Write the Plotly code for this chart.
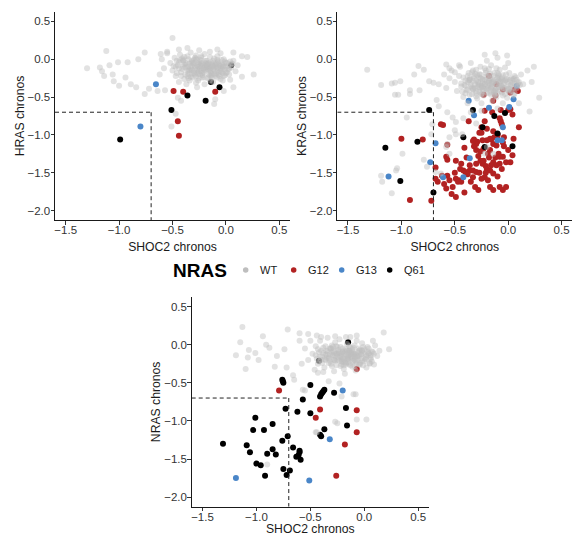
import plotly.graph_objects as go

# ---------------- DATA ----------------
THRESH = -0.7

# HRAS panel
hras_wt_x = [-0.52,-0.50,-0.48,-0.47,-0.45,-0.43,-0.42,-0.40,-0.39,-0.38,-0.36,-0.35,-0.34,-0.33,-0.32,-0.31,-0.30,-0.29,-0.28,-0.27,
             -0.26,-0.25,-0.24,-0.23,-0.22,-0.21,-0.20,-0.19,-0.18,-0.17,-0.16,-0.15,-0.14,-0.13,-0.12,-0.11,-0.10,-0.09,-0.08,-0.07,
             -0.06,-0.05,-0.04,-0.03,-0.02,-0.01,0.01,0.03,0.05,0.07,0.09,0.11,-0.44,-0.37,-0.28,-0.20,-0.12,-0.03,0.04,-0.58,
             -0.60,-0.62,-0.55,-0.25,-0.15,-0.05,-0.32,-0.22,-0.18,-0.26,-0.14,-0.09,-0.30,-0.40,-0.08,0.00,-0.24,-0.16,-0.35,-0.46,
             -0.44,-0.41,-0.38,-0.35,-0.33,-0.30,-0.27,-0.24,-0.22,-0.19,-0.17,-0.14,-0.12,-0.09,-0.07,-0.04,-0.01,0.02,-0.43,-0.39,
             -0.36,-0.32,-0.29,-0.26,-0.23,-0.20,-0.16,-0.13,-0.10,-0.06,-0.03,0.00,0.03,-0.34,-0.25,-0.15,-0.05,-0.28,-0.18,-0.08,
             -0.50,-1.12,-1.30,-1.18,-1.16,-1.09,-1.14,-1.05,-1.00,-1.06,-1.01,-0.92,-0.94,-0.89,-0.84,-0.76,-0.72,-0.76,-0.64,-0.57,
             -0.45,-0.42,-0.47,-0.51,-0.11,-0.10,-0.27,-0.02,0.07,0.15,0.26,0.20,0.15,0.07,-0.08,-0.36,-0.44,-0.61,-0.82,-0.55]
hras_wt_y = [-0.05,-0.15,0.02,-0.22,-0.08,0.06,-0.17,-0.02,-0.26,-0.11,0.04,-0.19,-0.06,0.09,-0.14,-0.24,-0.01,-0.09,0.05,-0.18,
             -0.28,-0.04,-0.12,0.02,-0.21,-0.08,0.07,-0.15,-0.02,-0.25,-0.10,0.03,-0.18,-0.06,-0.13,0.01,-0.22,-0.09,-0.16,-0.03,
             -0.12,-0.26,-0.07,-0.18,0.00,-0.14,-0.05,-0.20,-0.11,-0.02,-0.16,-0.08,-0.30,-0.33,-0.31,-0.33,-0.30,-0.28,-0.27,-0.12,
             0.00,-0.20,0.08,0.12,0.10,0.08,-0.04,-0.05,-0.11,-0.10,-0.04,-0.19,-0.16,-0.10,0.04,-0.10,-0.20,-0.20,0.00,-0.02,
             -0.12,0.01,-0.20,-0.10,-0.23,-0.06,-0.14,-0.01,-0.24,-0.05,-0.13,-0.22,-0.02,-0.12,-0.20,-0.01,-0.21,-0.09,-0.01,-0.07,
             -0.15,-0.19,0.02,-0.06,-0.16,-0.11,-0.05,-0.24,-0.07,-0.17,-0.10,-0.05,-0.13,-0.28,-0.25,-0.28,-0.16,0.01,-0.08,-0.11,
             0.28,0.11,-0.12,-0.11,-0.16,-0.08,-0.22,-0.29,-0.35,-0.20,-0.04,-0.04,-0.24,-0.33,-0.37,0.09,-0.39,-0.46,-0.42,-0.41,
             -0.51,-0.55,-0.72,-0.89,-0.59,-0.53,-0.37,-0.42,-0.37,-0.23,-0.20,0.03,0.04,0.09,0.13,0.15,0.13,0.07,0.00,0.10]
hras_wt_core_x = [-0.47,-0.44,-0.41,-0.39,-0.37,-0.34,-0.31,-0.29,-0.27,-0.25,-0.23,-0.21,-0.19,-0.17,-0.15,-0.13,-0.11,-0.08,-0.06,-0.03,
                  -0.01,0.02,0.05,-0.46,-0.42,-0.38,-0.35,-0.32,-0.29,-0.26,-0.23,-0.20,-0.17,-0.14,-0.11,-0.08,-0.05,-0.02,0.01,0.04,
                  -0.40,-0.36,-0.32,-0.28,-0.24,-0.20,-0.16,-0.12,-0.08,-0.04,0.00,-0.33,-0.27,-0.21,-0.15,-0.09,-0.03,-0.30,-0.22,-0.14,
                  -0.06,-0.25,-0.18,-0.11,-0.35,0.06,-0.49,-0.19,-0.13,-0.23]
hras_wt_core_y = [-0.10,-0.04,-0.13,0.03,-0.07,-0.15,-0.05,-0.20,-0.01,-0.13,-0.06,-0.17,-0.02,-0.10,-0.21,-0.08,-0.15,-0.04,-0.22,-0.11,
                  -0.03,-0.13,-0.06,-0.18,-0.22,-0.05,-0.25,-0.09,-0.12,-0.19,0.04,-0.14,-0.06,-0.11,-0.19,-0.01,-0.09,-0.22,-0.17,-0.03,
                  -0.01,-0.22,-0.02,-0.23,-0.08,-0.24,-0.14,-0.09,-0.24,-0.14,-0.18,-0.12,-0.08,-0.12,-0.13,-0.06,-0.08,-0.18,-0.18,-0.16,
                  -0.08,-0.16,-0.07,-0.10,-0.14,-0.06,-0.09,-0.10,-0.20,-0.09]
hras_g12_x = [-0.49, -0.40, -0.45, -0.44, -0.10]
hras_g12_y = [-0.42, -0.43, -0.82, -1.01, -0.43]
hras_g13_x = [-0.655, -0.80]
hras_g13_y = [-0.33, -0.89]
hras_q61_x = [-0.36, -0.19, -0.51, -0.99, 0.05, -0.14, -0.06]
hras_q61_y = [-0.48, -0.55, -0.67, -1.06, -0.08, -0.30, -0.37]

# KRAS panel
kras_wt_x = [-0.50,-0.48,-0.46,-0.44,-0.42,-0.40,-0.38,-0.37,-0.35,-0.34,-0.32,-0.31,-0.30,-0.29,-0.28,-0.27,-0.26,-0.25,-0.24,-0.23,
             -0.22,-0.21,-0.20,-0.19,-0.18,-0.17,-0.16,-0.15,-0.14,-0.13,-0.12,-0.11,-0.10,-0.09,-0.08,-0.07,-0.06,-0.05,-0.04,-0.03,
             -0.02,-0.01,0.01,0.02,0.04,0.06,0.08,0.10,0.12,0.14,-0.55,-0.58,-0.53,-0.60,-0.45,-0.35,-0.20,-0.10,0.00,-0.25,
             -0.15,-0.05,-0.38,0.05,-0.18,-0.12,-0.22,-0.08,-0.28,-0.14,-0.02,-0.30,-0.16,-0.06,-0.24,-0.10,0.03,-0.33,-0.26,-0.11,
             -0.41,-0.38,-0.36,-0.33,-0.30,-0.27,-0.25,-0.22,-0.20,-0.17,-0.15,-0.13,-0.10,-0.08,-0.05,-0.03,0.00,0.03,0.05,0.08,
             -0.40,-0.34,-0.29,-0.24,-0.19,-0.14,-0.09,-0.04,0.01,0.06,-0.31,-0.21,-0.11,-0.01,-0.26,-0.16,-0.06,-0.36,0.09,-0.18,
             -1.32,-1.19,-1.09,-1.06,-1.01,-1.06,-1.03,-0.92,-0.92,-0.84,-0.79,-0.88,-0.83,-0.74,-0.70,-0.65,-0.58,-0.55,-0.50,-0.46,
             -0.67,-0.65,-0.95,-0.57,-0.52,-0.49,-0.50,-0.57,0.24,0.29,0.20,-0.22,-0.12,-0.01,0.18,0.22,-0.99,-1.05,-1.19,-1.18,
             -1.09,-0.79,-0.76,-0.72,-0.71,-0.58,-0.55,-0.55,-0.68,-0.49,-0.43,-0.20,-0.22,-0.14,-1.04,-0.63,-0.35,-0.25,-0.10,0.10,
             -0.42,-0.30]
kras_wt_y = [-0.30,-0.42,-0.22,-0.36,-0.50,-0.28,-0.40,-0.18,-0.33,-0.46,-0.25,-0.38,-0.14,-0.52,-0.31,-0.43,-0.20,-0.35,-0.27,-0.48,
             -0.12,-0.39,-0.30,-0.22,-0.45,-0.34,-0.08,-0.26,-0.41,-0.18,-0.32,-0.50,-0.24,-0.37,-0.14,-0.29,-0.44,-0.21,-0.33,-0.11,
             -0.40,-0.26,-0.18,-0.35,-0.28,-0.22,-0.38,-0.30,-0.20,-0.33,-0.25,-0.38,-0.15,-0.20,-0.10,-0.05,-0.02,0.02,-0.05,-0.58,
             -0.55,-0.58,-0.58,-0.48,-0.28,-0.40,-0.33,-0.30,-0.37,-0.22,-0.20,-0.28,-0.38,-0.35,-0.42,-0.45,-0.42,-0.15,-0.10,-0.12,
             -0.34,-0.22,-0.47,-0.29,-0.42,-0.24,-0.46,-0.27,-0.40,-0.19,-0.36,-0.47,-0.30,-0.42,-0.28,-0.46,-0.33,-0.25,-0.38,-0.27,
             -0.45,-0.38,-0.21,-0.32,-0.36,-0.30,-0.20,-0.38,-0.44,-0.32,-0.33,-0.18,-0.38,-0.30,-0.25,-0.43,-0.26,-0.27,-0.34,-0.13,
             -0.14,-0.34,-0.32,-0.31,-0.29,-0.47,-0.47,-0.41,-0.46,-0.09,-0.14,-0.20,-0.41,-0.29,-0.31,-0.33,-0.07,-0.12,-0.17,-0.08,
             -0.54,-0.62,-0.77,-0.70,-0.77,-0.83,-0.94,-1.12,-0.10,-0.51,-0.69,0.06,0.08,0.05,-0.15,-0.30,-1.25,-1.47,-1.54,-1.62,
             -1.77,-1.33,-1.42,-0.99,-0.86,-1.16,-1.03,-1.25,-1.49,-0.99,-0.99,-1.16,-1.25,-1.25,-1.44,-1.51,-0.70,-0.68,-0.65,-0.58,
             -0.78,-0.85]
kras_wt_core_x = [-0.44,-0.42,-0.39,-0.37,-0.35,-0.32,-0.30,-0.28,-0.26,-0.24,-0.22,-0.20,-0.18,-0.16,-0.14,-0.12,-0.10,-0.07,-0.05,-0.02,
                  0.01,0.04,0.07,-0.43,-0.40,-0.36,-0.33,-0.31,-0.27,-0.25,-0.21,-0.19,-0.15,-0.13,-0.09,-0.06,-0.03,0.00,0.03,0.06,
                  -0.38,-0.34,-0.29,-0.23,-0.17,-0.11,-0.04,0.02,0.09,-0.30,-0.24,-0.18,-0.12,-0.06,0.00,-0.21,-0.15,-0.09,-0.27,-0.13,
                  -0.08,0.05,-0.33,-0.19,-0.01,-0.36,0.11,-0.25,-0.16,-0.10]
kras_wt_core_y = [-0.32,-0.24,-0.41,-0.28,-0.36,-0.22,-0.45,-0.30,-0.38,-0.26,-0.33,-0.44,-0.21,-0.37,-0.29,-0.42,-0.25,-0.35,-0.48,-0.27,
                  -0.39,-0.31,-0.24,-0.43,-0.35,-0.27,-0.40,-0.19,-0.33,-0.46,-0.23,-0.38,-0.30,-0.44,-0.22,-0.36,-0.28,-0.41,-0.34,-0.45,
                  -0.30,-0.17,-0.35,-0.40,-0.25,-0.33,-0.38,-0.27,-0.31,-0.49,-0.36,-0.29,-0.48,-0.24,-0.39,-0.15,-0.32,-0.28,-0.20,-0.43,
                  -0.37,-0.26,-0.39,-0.31,-0.51,-0.25,-0.34,-0.37,-0.47,-0.18]
kras_g12_x = [-0.18,-0.23,-0.14,-0.11,0.02,0.09,-0.22,-0.07,0.00,0.02,0.04,-0.37,-0.22,-0.63,-0.61,-0.07,-0.06,0.10,-0.27,-0.25,
              -0.14,-0.10,-0.04,-0.32,-0.29,-0.24,-0.16,-0.41,-0.57,-1.00,-0.80,-0.92,-0.72,-0.68,-0.68,-0.66,-0.58,-0.57,-0.62,-0.57,
              -0.58,-0.52,-0.53,-0.49,-0.49,-0.44,-0.49,-0.46,-0.47,-0.41,-0.33,-0.30,-0.32,-0.36,-0.33,-0.30,-0.33,-0.31,-0.28,-0.26,
              -0.24,-0.23,-0.21,-0.30,-0.20,-0.17,-0.14,-0.22,-0.19,-0.17,-0.14,-0.08,-0.05,-0.02,-0.23,-0.17,-0.14,-0.11,-0.09,-0.08,
              -0.05,-0.02,0.02,0.00,0.04,-0.14,-0.11,-0.08,-0.13,-0.10,-0.05,-0.25,-0.20,-0.20,-0.17,-0.30,-0.26,-0.40,-0.42,-0.44,
              -0.38,-0.36,-0.27,-0.25,-0.12,-0.18,-0.06,-0.10,-0.35,-0.39,-0.45,-0.55,-0.60,-0.50,-0.04,0.05,-0.08,-0.15,-0.12,-0.05,
              0.06,-0.19,-0.28,-0.21,-0.16]
kras_g12_y = [-0.22,-0.47,-0.55,-0.33,-0.44,-0.42,-0.68,-0.67,-0.67,-0.66,-0.73,-0.82,-0.82,-0.86,-0.87,-0.82,-0.86,-0.90,-0.97,-0.97,
              -0.95,-0.99,-1.03,-1.06,-1.09,-1.07,-1.06,-1.17,-1.13,-1.05,-1.06,-1.86,-1.87,-1.43,-1.58,-1.62,-1.29,-1.33,-1.54,-1.54,
              -1.71,-1.69,-1.78,-1.82,-1.34,-1.38,-1.58,-1.60,-1.62,-1.76,-1.08,-1.12,-1.15,-1.47,-1.47,-1.49,-1.56,-1.69,-1.73,-1.34,
              -1.38,-1.34,-1.41,-1.38,-1.45,-1.47,-1.51,-1.56,-1.60,-1.69,-1.73,-1.69,-1.73,-1.69,-1.18,-1.20,-1.12,-1.14,-1.25,-1.29,
              -1.29,-1.36,-1.36,-1.20,-1.27,-1.36,-1.40,-1.38,-1.03,-1.01,-1.10,-0.90,-0.92,-1.07,-1.05,-1.20,-1.22,-1.49,-1.47,-1.62,
              -1.52,-1.40,-1.50,-1.58,-1.30,-1.30,-1.45,-1.55,-1.62,-1.30,-1.45,-1.60,-1.65,-1.50,-1.15,-1.05,-0.78,-0.70,-0.48,-0.40,
              -0.40,-1.25,-1.28,-1.50,-1.40]
kras_g13_x = [-0.37,-0.32,-0.18,0.01,0.05,0.08,-0.05,-0.10,-0.06,-0.68,-0.73,-0.36,-0.61,-0.42,-1.12]
kras_g13_y = [-0.55,-0.74,-0.64,-0.63,-0.53,-0.35,-0.90,-1.07,-1.07,-1.11,-1.36,-1.31,-1.56,-1.56,-1.55]
kras_q61_x = [-0.74,-0.33,-0.13,-0.03,-0.24,-0.10,-0.42,-0.22,0.04,-0.85,-1.15,-1.01,-0.70]
kras_q61_y = [-0.67,-0.67,-0.75,-0.71,-0.90,-0.98,-1.03,-1.16,-1.15,-1.09,-1.17,-1.61,-1.76]

# NRAS panel
nras_wt_x = [-0.48,-0.45,-0.43,-0.41,-0.39,-0.37,-0.35,-0.34,-0.32,-0.30,-0.29,-0.27,-0.26,-0.24,-0.23,-0.21,-0.20,-0.19,-0.17,-0.16,
             -0.15,-0.14,-0.13,-0.12,-0.11,-0.10,-0.09,-0.08,-0.07,-0.06,-0.05,-0.04,-0.03,-0.02,-0.01,0.00,0.02,0.04,0.06,0.08,
             0.10,0.12,0.14,-0.52,-0.55,-0.50,-0.46,-0.38,-0.28,-0.18,-0.08,0.02,-0.33,-0.22,-0.12,-0.02,-0.25,-0.15,-0.05,-0.20,
             -0.10,-0.30,-0.36,-0.14,0.05,-0.40,-0.60,-0.58,-0.44,-0.27,-0.17,-0.07,0.08,-0.31,-0.21,-0.11,
             -0.44,-0.40,-0.36,-0.33,-0.31,-0.28,-0.25,-0.22,-0.20,-0.18,-0.15,-0.13,-0.11,-0.09,-0.06,-0.04,-0.01,0.01,0.04,0.07,
             -0.42,-0.35,-0.30,-0.26,-0.21,-0.16,-0.12,-0.07,-0.03,0.03,-0.38,-0.24,-0.19,-0.14,-0.09,-0.02,0.06,-0.28,-0.17,-0.05,
             -1.13,-1.15,-1.19,-1.07,-1.08,-1.01,-0.98,-0.94,-0.91,-0.88,-1.10,-0.83,-0.81,-0.74,-0.71,-0.60,-0.52,-0.65,-0.57,-0.43,
             -0.08,-0.07,0.02,-0.25,-0.45,-0.90,0.18,0.23,0.09,-0.33,-0.23,-0.44,-0.27,-0.21,-0.10,-0.55,-0.66,-0.72]
nras_wt_y = [-0.12,-0.02,-0.25,0.05,-0.16,-0.30,-0.08,0.09,-0.21,-0.01,-0.14,0.03,-0.27,-0.10,0.07,-0.19,-0.05,-0.32,-0.13,0.01,
             -0.23,-0.08,0.10,-0.17,-0.29,-0.04,-0.12,-0.21,0.05,-0.15,-0.26,-0.07,-0.18,0.02,-0.11,-0.22,-0.14,-0.05,-0.19,-0.10,
             -0.01,-0.15,-0.08,-0.20,-0.05,0.05,-0.33,-0.36,-0.35,-0.38,-0.34,-0.30,-0.18,-0.15,-0.13,-0.08,-0.20,-0.18,-0.15,-0.10,
             -0.12,-0.10,-0.20,-0.25,-0.25,0.10,0.05,-0.25,0.12,0.11,0.10,0.12,0.05,-0.05,-0.22,-0.18,
             -0.18,-0.08,-0.13,-0.24,-0.05,-0.20,-0.12,-0.03,-0.22,-0.09,-0.16,-0.27,-0.06,-0.20,-0.10,-0.24,-0.03,-0.18,-0.12,-0.22,
             -0.22,-0.17,-0.28,-0.02,-0.26,-0.19,-0.11,-0.17,-0.13,-0.03,-0.04,-0.17,-0.12,-0.08,-0.28,-0.21,-0.14,-0.09,-0.24,-0.08,
             0.23,0.03,-0.14,-0.07,-0.17,-0.11,-0.20,0.11,0.00,-0.04,-0.32,-0.29,-0.15,-0.06,0.20,0.15,0.14,-0.46,-0.59,-0.37,
             -0.65,-0.98,-0.98,-1.03,-1.15,-1.57,0.16,-0.06,-0.26,-0.48,-0.51,-1.15,-1.01,-0.68,-0.65,-0.60,-0.40,-0.30]
nras_wt_core_x = [-0.45,-0.43,-0.40,-0.38,-0.36,-0.33,-0.31,-0.29,-0.27,-0.25,-0.23,-0.21,-0.19,-0.17,-0.15,-0.13,-0.11,-0.09,-0.07,-0.04,
                  -0.02,0.01,0.04,-0.42,-0.39,-0.35,-0.32,-0.28,-0.26,-0.22,-0.20,-0.16,-0.14,-0.10,-0.08,-0.05,-0.01,0.03,0.06,0.09,
                  -0.37,-0.30,-0.24,-0.18,-0.12,-0.06,0.00,0.05,-0.34,-0.27,-0.21,-0.15,-0.09,-0.03,-0.25,-0.19,-0.13,-0.32,-0.17,-0.11,
                  -0.07,0.02,-0.41,-0.29,-0.23,-0.14,0.07,-0.20,-0.10,-0.16]
nras_wt_core_y = [-0.14,-0.06,-0.20,-0.11,-0.02,-0.17,-0.25,-0.08,-0.15,-0.03,-0.21,-0.12,-0.27,-0.06,-0.18,-0.10,-0.22,-0.01,-0.14,-0.26,
                  -0.08,-0.19,-0.11,-0.10,-0.24,-0.13,-0.05,-0.20,-0.12,-0.28,-0.09,-0.16,-0.02,-0.21,-0.13,-0.05,-0.27,-0.09,-0.17,-0.12,
                  -0.19,-0.14,-0.07,-0.23,-0.15,-0.20,-0.06,-0.24,-0.09,-0.21,-0.16,-0.11,-0.16,-0.13,-0.14,-0.19,-0.04,-0.13,-0.26,-0.09,
                  -0.24,-0.16,-0.16,-0.03,-0.10,-0.13,-0.09,-0.18,-0.14,-0.08]
nras_g12_x = [-0.07,-0.79,-0.41,-0.07,-0.45,-0.07,-0.18,-0.26]
nras_g12_y = [-0.32,-0.60,-0.85,-0.86,-0.96,-1.15,-1.31,-1.72]
nras_g13_x = [-0.20,-0.32,-1.19,-0.51]
nras_g13_y = [-0.60,-1.24,-1.75,-1.78]
nras_q61_x = [-0.15,-0.42,-0.50,-0.76,-0.755,-0.75,-0.57,-0.41,-0.40,-0.39,-0.38,-0.37,-0.28,-0.73,-0.62,-0.50,-0.17,-0.16,-0.37,-0.40,
              -0.41,-1.01,-1.03,-0.93,-0.85,-1.31,-1.09,-1.06,-1.00,-0.96,-0.90,-0.85,-0.82,-0.76,-0.71,-0.66,-0.60,-0.61,-0.63,-0.59,
              -0.92,-0.75,-0.69,-0.72,-0.60]
nras_q61_y = [0.03,-0.21,-0.53,-0.46,-0.48,-0.50,-0.72,-0.68,-0.65,-0.63,-0.61,-0.59,-0.63,-0.84,-0.88,-0.90,-0.83,-1.06,-1.11,-1.20,
              -1.18,-0.96,-1.12,-1.12,-1.04,-1.30,-1.32,-1.41,-1.56,-1.58,-1.43,-1.37,-1.44,-1.26,-1.20,-1.35,-1.39,-1.45,-1.47,-1.51,
              -1.72,-1.63,-1.65,-1.71,-1.41]

groups = ["WT", "G12", "G13", "Q61"]
colors = {"WT": "#bebebe", "G12": "#B22222", "G13": "#4A86C8", "Q61": "#000000"}
legend_title = "NRAS"
x_title = "SHOC2 chronos"
y_titles = ["HRAS chronos", "KRAS chronos", "NRAS chronos"]

panels = [
    dict(wt=(hras_wt_x + hras_wt_core_x, hras_wt_y + hras_wt_core_y),
         G12=(hras_g12_x, hras_g12_y), G13=(hras_g13_x, hras_g13_y), Q61=(hras_q61_x, hras_q61_y)),
    dict(wt=(kras_wt_x + kras_wt_core_x, kras_wt_y + kras_wt_core_y),
         G12=(kras_g12_x, kras_g12_y), G13=(kras_g13_x, kras_g13_y), Q61=(kras_q61_x, kras_q61_y)),
    dict(wt=(nras_wt_x + nras_wt_core_x, nras_wt_y + nras_wt_core_y),
         G12=(nras_g12_x, nras_g12_y), G13=(nras_g13_x, nras_g13_y), Q61=(nras_q61_x, nras_q61_y)),
]

# ---------------- FIGURE ----------------
W, H = 574, 536
FONT = "Liberation Sans, Arial, sans-serif"
XR = [-1.6, 0.6]
YR = [-2.125, 0.625]

# pixel boxes (left, right, top, bottom) of each panel
boxes = [(55, 290, 12, 220), (337.3, 572.3, 12, 220), (191.7, 429, 297, 506.7)]

fig = go.Figure()
for i, p in enumerate(panels):
    ax = "" if i == 0 else str(i + 1)
    xa, ya = "x" + ax, "y" + ax
    for g in ["G12", "G13", "Q61"]:
        xs, ys = p[g]
        fig.add_trace(go.Scatter(x=xs, y=ys, mode="markers", xaxis=xa, yaxis=ya,
                                 marker=dict(color=colors[g], size=6), showlegend=False, name=g))
    xs, ys = p["wt"]
    fig.add_trace(go.Scatter(x=xs, y=ys, mode="markers", xaxis=xa, yaxis=ya,
                             marker=dict(color=colors["WT"], size=6, opacity=0.45), showlegend=False, name="WT"))
    # threshold lines
    fig.add_shape(type="line", xref=xa, yref=ya, x0=XR[0], x1=THRESH, y0=THRESH, y1=THRESH,
                  line=dict(color="#222222", width=1, dash="4px,3px"))
    fig.add_shape(type="line", xref=xa, yref=ya, x0=THRESH, x1=THRESH, y0=THRESH, y1=YR[0],
                  line=dict(color="#222222", width=1, dash="4px,3px"))

    l, r, t, b = boxes[i]
    axis_common = dict(showline=True, linecolor="#1a1a1a", linewidth=1, ticks="outside", ticklen=3.5,
                       tickcolor="#333333", tickfont=dict(size=11.5, color="#333333", family=FONT),
                       showgrid=False, zeroline=False)
    fig.layout["xaxis" + ax] = dict(domain=[l / W, r / W], range=XR, anchor=ya,
                                    tickvals=[-1.5, -1.0, -0.5, 0.0, 0.5], tickformat=".1f",
                                    ticklabelstandoff=-4,
                                    title=dict(text=x_title, font=dict(size=12.2, color="#1a1a1a", family=FONT), standoff=7),
                                    **axis_common)
    fig.layout["yaxis" + ax] = dict(domain=[1 - b / H, 1 - t / H], range=YR, anchor=xa,
                                    tickvals=[-2.0, -1.5, -1.0, -0.5, 0.0, 0.5], tickformat=".1f",
                                    ticklabelstandoff=-2,
                                    title=dict(text=y_titles[i], font=dict(size=12.2, color="#1a1a1a", family=FONT), standoff=0),
                                    **axis_common)

# legend (hidden category axis: one key per group)
fig.add_trace(go.Scatter(x=groups, y=[0] * len(groups), mode="markers", xaxis="x4", yaxis="y4",
                         marker=dict(color=[colors[g] for g in groups], size=5.5), showlegend=False, hoverinfo="skip"))
fig.layout["xaxis4"] = dict(domain=[221.7 / W, 413.7 / W], range=[-0.5, len(groups) - 0.5], type="category",
                            categoryorder="array", categoryarray=groups, visible=False, anchor="y4")
fig.layout["yaxis4"] = dict(domain=[1 - 285 / H, 1 - 255 / H], range=[-1, 1], visible=False, anchor="x4")
for g in groups:
    fig.add_annotation(x=g, y=0, xref="x4", yref="y4", text=g, showarrow=False, xanchor="left", yanchor="middle",
                       xshift=12, font=dict(size=11, color="#1a1a1a", family=FONT))
fig.add_annotation(x=171 / W, y=1 - 270 / H, xref="paper", yref="paper", text="<b>" + legend_title + "</b>",
                   showarrow=False, xanchor="left", yanchor="middle", font=dict(size=19, color="#000000", family=FONT))

fig.update_layout(
    width=W, height=H,
    margin=dict(l=0, r=0, t=0, b=0, autoexpand=False),
    paper_bgcolor="white", plot_bgcolor="white",
    font=dict(family=FONT, color="#1a1a1a"),
    showlegend=False,
)

fig.write_html("out.html", config={"displayModeBar": False},
               post_script="document.body.style.margin='0px';")
